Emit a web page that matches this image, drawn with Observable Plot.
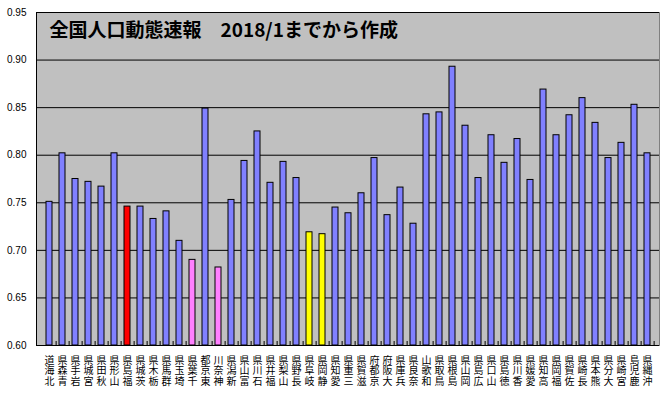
<!DOCTYPE html>
<html>
<head>
<meta charset="utf-8">
<script src="https://cdn.jsdelivr.net/npm/d3@7"></script>
<script src="https://cdn.jsdelivr.net/npm/@observablehq/plot@0.6"></script>
<style>
  html, body { margin: 0; padding: 0; background: #ffffff; }
  #chart { width: 662px; height: 399px; }
</style>
</head>
<body>
<div id="chart"></div>
<script>
const prefectures = ["北海道","青森県","岩手県","宮城県","秋田県","山形県","福島県","茨城県","栃木県","群馬県","埼玉県","千葉県","東京都","神奈川","新潟県","富山県","石川県","福井県","山梨県","長野県","岐阜県","静岡県","愛知県","三重県","滋賀県","京都府","大阪府","兵庫県","奈良県","和歌山","鳥取県","島根県","岡山県","広島県","山口県","徳島県","香川県","愛媛県","高知県","福岡県","佐賀県","長崎県","熊本県","大分県","宮崎県","鹿児島","沖縄県"];
const values = [0.751,0.802,0.775,0.772,0.767,0.802,0.746,0.746,0.733,0.741,0.710,0.690,0.849,0.682,0.753,0.794,0.825,0.771,0.793,0.776,0.719,0.717,0.745,0.739,0.760,0.797,0.737,0.766,0.728,0.843,0.845,0.893,0.831,0.776,0.821,0.792,0.817,0.774,0.869,0.821,0.842,0.860,0.834,0.797,0.813,0.853,0.802];
const highlightRed = ["福島県"];
const highlightPink = ["千葉県","神奈川"];
const highlightYellow = ["岐阜県","静岡県"];
const yTicks = [0.60,0.65,0.70,0.75,0.80,0.85,0.90,0.95];
const title = "全国人口動態速報　2018/1までから作成";

const data = prefectures.map((p, i) => ({
  name: p,
  value: values[i],
  color: highlightRed.includes(p) ? "#ff0000"
       : highlightPink.includes(p) ? "#ff80ff"
       : highlightYellow.includes(p) ? "#ffff00"
       : "#8080ff"
}));

const yMin = yTicks[0], yMax = yTicks[yTicks.length - 1];
const W = 662, ML = 36, MR = 3;
const step = (W - ML - MR) / prefectures.length;

const chart = Plot.plot({
  width: W,
  height: 399,
  marginLeft: ML,
  marginRight: MR,
  marginTop: 12,
  marginBottom: 54,
  style: { background: "#ffffff", fontFamily: "'Liberation Sans', Arial, sans-serif" },
  x: { type: "band", domain: prefectures, padding: 0.56, align: 0.5, label: null },
  y: { domain: [yMin, yMax], label: null },
  marks: [
    Plot.frame({ fill: "#c0c0c0", stroke: "#808080" }),
    Plot.ruleY(yTicks, { stroke: "#000000", strokeWidth: 1 }),
    Plot.frame({ anchor: "left", stroke: "#000000" }),
    Plot.barY(data, {
      x: "name",
      y1: () => yMin,
      y2: "value",
      fill: "color",
      stroke: "#000000",
      strokeWidth: 1
    }),
    Plot.axisX({
      text: null,
      tickSize: -4,
      dx: step / 2,
      stroke: "#000000",
      label: null
    }),
    Plot.axisY({
      ticks: yTicks,
      tickFormat: d => d.toFixed(2),
      tickSize: 0,
      tickPadding: 10,
      fontSize: 10,
      fill: "#000000",
      label: null
    }),
    Plot.axisX({
      tickSize: 0,
      tickPadding: 11,
      tickFormat: d => [...d].reverse().join("\n"),
      fontSize: 10,
      lineHeight: 1.05,
      fontFamily: "'Noto Sans CJK JP', sans-serif",
      fill: "#000000",
      label: null
    }),
    Plot.text([title], {
      frameAnchor: "top-left",
      dx: 13,
      dy: 18,
      text: d => d,
      fontSize: 19,
      fontWeight: "bold",
      fontFamily: "'Noto Sans CJK JP', sans-serif",
      fill: "#000000",
      textAnchor: "start",
      lineAnchor: "middle"
    })
  ]
});
document.getElementById("chart").appendChild(chart);
</script>
</body>
</html>
